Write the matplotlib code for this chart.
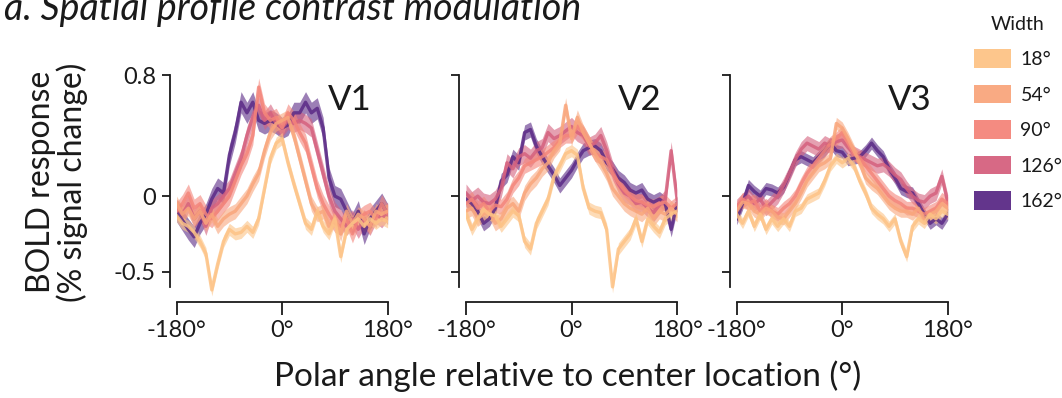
import numpy as np
import matplotlib
matplotlib.use("Agg")
import matplotlib.pyplot as plt
from matplotlib.patches import Patch

plt.rcParams["font.family"] = ["Lato", "DejaVu Sans"]
plt.rcParams["font.weight"] = "normal"
plt.rcParams["text.color"] = "#1a1a1a"
plt.rcParams["xtick.color"] = "#1a1a1a"
plt.rcParams["ytick.color"] = "#1a1a1a"

# polar angle grid (deg)
angles = np.arange(-180, 181, 10)

widths = ["18°", "54°", "90°", "126°", "162°"]
colors = ["#fdc386", "#f9a67c", "#f4857a", "#d5617e", "#5b2a86"]

# V1 mean profiles (% signal change)
v1_18 = [-0.13, -0.18, -0.20, -0.24, -0.30, -0.38, -0.62, -0.45, -0.30, -0.22,
         -0.25, -0.24, -0.20, -0.24, -0.15, 0.05, 0.25, 0.35, 0.38, 0.22,
         0.08, -0.05, -0.18, -0.22, -0.10, -0.20, -0.25, -0.15, -0.40, -0.22,
         -0.18, -0.15, -0.20, -0.15, -0.18, -0.15, -0.17]
v1_54 = [-0.05, -0.12, -0.08, -0.15, -0.10, -0.18, -0.12, -0.20, -0.15, -0.12,
         -0.10, -0.05, 0.00, 0.08, 0.15, 0.30, 0.42, 0.48, 0.50, 0.52,
         0.40, 0.25, 0.10, -0.05, -0.12, -0.10, -0.20, -0.15, -0.25, -0.10,
         -0.18, -0.12, -0.15, -0.20, -0.10, -0.12, -0.10]
v1_90 = [-0.10, -0.05, 0.02, -0.08, -0.05, -0.12, -0.15, -0.10, -0.05, 0.00,
         0.10, 0.20, 0.28, 0.40, 0.72, 0.55, 0.50, 0.52, 0.45, 0.55,
         0.50, 0.42, 0.35, 0.20, 0.05, -0.05, -0.12, -0.18, -0.20, -0.15,
         -0.25, -0.15, -0.12, -0.10, -0.15, -0.05, -0.12]
v1_126 = [-0.08, -0.12, -0.05, -0.15, -0.10, -0.20, -0.08, -0.05, 0.00, 0.05,
          0.15, 0.25, 0.40, 0.52, 0.60, 0.50, 0.55, 0.48, 0.45, 0.50,
          0.48, 0.50, 0.48, 0.45, 0.30, 0.15, 0.00, -0.10, -0.15, -0.20,
          -0.15, -0.22, -0.15, -0.20, -0.12, -0.15, -0.10]
v1_162 = [-0.10, -0.16, -0.22, -0.27, -0.18, -0.12, -0.02, 0.05, 0.02, 0.27,
          0.42, 0.62, 0.55, 0.62, 0.50, 0.48, 0.50, 0.48, 0.45, 0.47,
          0.55, 0.55, 0.62, 0.55, 0.58, 0.45, 0.12, 0.00, -0.02, -0.10,
          -0.18, -0.10, -0.25, -0.15, -0.10, -0.05, -0.12]

# V2
v2_18 = [-0.12, -0.22, -0.15, -0.09, -0.12, -0.13, -0.20, -0.15, -0.10, -0.13,
         -0.30, -0.35, -0.18, -0.10, -0.02, 0.13, 0.20, 0.28, 0.30, 0.27,
         0.05, -0.08, -0.10, -0.11, -0.22, -0.60, -0.35, -0.30, -0.25, -0.15,
         -0.30, -0.15, -0.20, -0.24, -0.15, -0.12, -0.10]
v2_54 = [-0.10, -0.08, -0.15, -0.12, -0.10, -0.18, -0.15, -0.08, -0.05, -0.10,
         0.02, 0.08, 0.12, 0.18, 0.22, 0.30, 0.35, 0.60, 0.38, 0.52,
         0.42, 0.35, 0.28, 0.22, 0.15, 0.05, 0.00, -0.05, -0.08, -0.10,
         -0.12, -0.08, -0.15, -0.10, -0.12, -0.08, -0.12]
v2_90 = [-0.05, -0.02, -0.08, -0.05, -0.10, -0.06, -0.07, -0.02, 0.07, 0.12,
         0.20, 0.22, 0.24, 0.26, 0.29, 0.32, 0.37, 0.40, 0.40, 0.46,
         0.42, 0.35, 0.28, 0.26, 0.24, 0.15, 0.09, 0.04, 0.00, -0.03,
         -0.04, -0.06, -0.07, -0.05, -0.04, -0.08, -0.05]
v2_126 = [0.02, -0.03, 0.00, -0.04, -0.05, -0.02, 0.05, 0.22, 0.18, 0.26,
          0.28, 0.25, 0.30, 0.32, 0.42, 0.38, 0.40, 0.43, 0.46, 0.42,
          0.40, 0.33, 0.35, 0.40, 0.30, 0.17, 0.08, 0.02, 0.00, -0.05,
          -0.04, -0.08, -0.11, -0.06, -0.02, 0.30, -0.02]
v2_162 = [-0.02, -0.05, -0.10, -0.18, -0.15, -0.08, 0.10, 0.14, 0.26, 0.22,
          0.42, 0.44, 0.33, 0.26, 0.20, 0.14, 0.07, 0.12, 0.17, 0.24,
          0.30, 0.32, 0.33, 0.30, 0.22, 0.18, 0.12, 0.09, 0.04, 0.02,
          0.04, -0.02, -0.04, -0.02, -0.05, -0.22, -0.05]

# V3
v3_18 = [-0.12, -0.18, -0.10, -0.20, -0.12, -0.22, -0.15, -0.20, -0.15, -0.20,
         -0.10, -0.08, -0.02, 0.00, 0.02, 0.10, 0.20, 0.25, 0.22, 0.25,
         0.20, 0.10, 0.02, -0.08, -0.12, -0.15, -0.20, -0.15, -0.30, -0.40,
         -0.20, -0.15, -0.18, -0.12, -0.15, -0.10, -0.12]
v3_54 = [-0.10, -0.04, -0.05, -0.10, -0.12, -0.08, -0.10, -0.14, -0.15, -0.10,
         -0.05, 0.02, 0.10, 0.15, 0.20, 0.22, 0.25, 0.48, 0.45, 0.38,
         0.30, 0.22, 0.12, 0.08, 0.05, 0.00, -0.05, -0.08, -0.10, -0.10,
         -0.12, -0.08, -0.15, -0.12, -0.10, -0.05, -0.08]
v3_90 = [-0.08, -0.02, -0.05, -0.03, -0.10, -0.06, -0.10, -0.12, -0.08, -0.05,
         0.00, 0.08, 0.15, 0.20, 0.25, 0.30, 0.35, 0.38, 0.42, 0.35,
         0.28, 0.25, 0.20, 0.15, 0.10, 0.05, 0.00, -0.03, -0.05, -0.08,
         -0.08, -0.10, -0.12, -0.10, -0.08, -0.02, -0.05]
v3_126 = [-0.07, -0.03, 0.00, -0.05, -0.02, -0.08, -0.04, 0.00, 0.07, 0.15,
          0.24, 0.31, 0.35, 0.33, 0.31, 0.35, 0.33, 0.36, 0.37, 0.32,
          0.28, 0.26, 0.24, 0.22, 0.20, 0.21, 0.18, 0.14, 0.11, 0.05,
          0.00, -0.03, -0.04, 0.00, 0.02, 0.13, -0.04]
v3_162 = [-0.15, -0.05, 0.07, 0.03, 0.00, 0.05, 0.04, 0.02, 0.06, 0.15,
          0.24, 0.26, 0.24, 0.22, 0.26, 0.30, 0.35, 0.30, 0.29, 0.24,
          0.25, 0.26, 0.30, 0.35, 0.30, 0.26, 0.18, 0.12, 0.05, 0.03,
          0.02, -0.05, -0.12, -0.18, -0.15, -0.18, -0.12]

# error band half-widths (one per width)
v1_err = [0.04, 0.05, 0.06, 0.06, 0.07]
v2_err = [0.04, 0.05, 0.05, 0.06, 0.05]
v3_err = [0.035, 0.04, 0.045, 0.05, 0.04]

areas = ["V1", "V2", "V3"]
profiles = {
    "V1": [v1_18, v1_54, v1_90, v1_126, v1_162],
    "V2": [v2_18, v2_54, v2_90, v2_126, v2_162],
    "V3": [v3_18, v3_54, v3_90, v3_126, v3_162],
}
errors = {"V1": v1_err, "V2": v2_err, "V3": v3_err}

W, H = 1062, 398
fig = plt.figure(figsize=(W / 100, H / 100), dpi=100)

lefts = [176.6, 466.0, 736.7]
ax_w = 211.0
ax_top, ax_bot = 75, 302

for i, area in enumerate(areas):
    ax = fig.add_axes([lefts[i] / W, 1 - ax_bot / H, ax_w / W, (ax_bot - ax_top) / H])
    # widest first so the narrow profiles sit on top
    for k in range(len(widths) - 1, -1, -1):
        m = np.array(profiles[area][k])
        e = errors[area][k]
        ax.fill_between(angles, m - e, m + e, color=colors[k], alpha=0.6, lw=0)
        ax.plot(angles, m, color=colors[k], lw=2.4, alpha=0.85)

    ax.set_xlim(-180, 180)
    ax.set_ylim(-0.7, 0.8)
    ax.set_xticks([-180, 0, 180])
    ax.set_xticklabels(["-180°", "0°", "180°"])
    ax.set_yticks([-0.5, 0, 0.8])
    if i == 0:
        ax.set_yticklabels(["-0.5", "0", "0.8"])
    else:
        ax.set_yticklabels([])
    for s in ["top", "right"]:
        ax.spines[s].set_visible(False)
    ax.spines["left"].set_position(("outward", 5))
    ax.spines["left"].set_bounds(-0.6, 0.8)
    for s in ["left", "bottom"]:
        ax.spines[s].set_linewidth(1.3)
        ax.spines[s].set_color("#1a1a1a")
    ax.tick_params(axis="x", length=9, width=1.3, labelsize=17, pad=4)
    ax.tick_params(axis="y", length=6, width=1.3, labelsize=17, pad=4)
    ax.text(0.925, 0.89, area, transform=ax.transAxes, ha="right", va="center",
            fontsize=25)

fig.text(0.004, 1 - 20 / H, "a. Spatial profile contrast modulation", style="italic",
         fontsize=27, va="baseline", ha="left")
fig.text(568 / W, 1 - 376 / H, "Polar angle relative to center location (°)",
         fontsize=24, ha="center", va="center")
fig.text(57 / W, 1 - 182 / H, "BOLD response\n(% signal change)", rotation=90,
         fontsize=23, ha="center", va="center", linespacing=1.0)

handles = [Patch(facecolor=c, edgecolor="none", alpha=0.95) for c in colors]
fig.legend(handles, widths, title="Width", loc="upper left",
           bbox_to_anchor=(966 / W, 1 - 8 / H), frameon=False, fontsize=14,
           title_fontsize=14, handlelength=1.9, handleheight=1.1,
           labelspacing=0.85, handletextpad=0.5, borderaxespad=0)

fig.savefig("out.png", dpi=100)
